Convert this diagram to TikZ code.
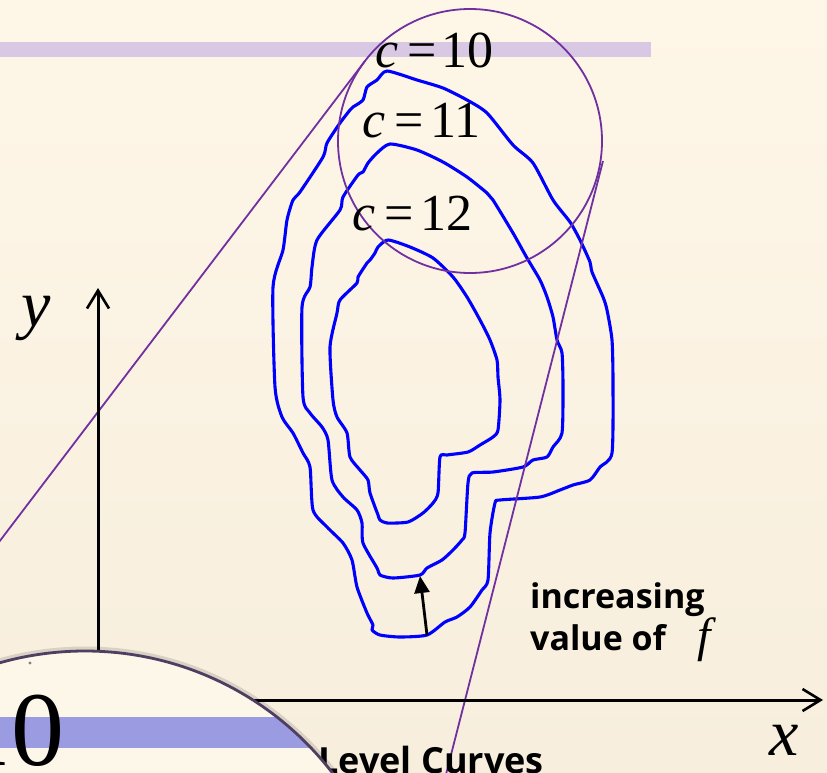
\documentclass[tikz,border=0pt]{standalone}
\usepackage{fontspec}
\setmainfont{Liberation Serif}
\newfontfamily\sansfont{Open Sans}
\usetikzlibrary{arrows.meta}
\definecolor{bgtop}{RGB}{254,246,231}
\definecolor{bgbot}{RGB}{247,238,221}
\definecolor{bandc}{RGB}{216,200,228}
\definecolor{mpurple}{RGB}{112,48,160}
\definecolor{cblue}{RGB}{0,0,255}
\definecolor{bigfill}{RGB}{253,247,233}
\definecolor{bigband}{RGB}{155,155,226}
\definecolor{bigedge}{RGB}{78,62,98}
\tikzset{
  contour/.style={draw=cblue, line width=3.1pt, line join=round, line cap=round},
  magline/.style={draw=mpurple, line width=1.8pt},
  axisline/.style={draw=black, line width=3pt, -{Straight Barb[length=18pt,width=22pt,line width=2.6pt]}},
  incarrow/.style={draw=black, line width=2.8pt, -{Triangle[length=17pt,width=15pt]}},
  eqlabel/.style={font=\fontsize{52}{52}\selectfont, inner sep=0pt, anchor=base west},
  varlabel/.style={font=\fontsize{66}{66}\selectfont\itshape, inner sep=0pt},
  sanslabel/.style={font=\sansfont\bfseries\fontsize{34}{42}\selectfont, inner sep=0pt, anchor=base west}
}
\begin{document}
\begin{tikzpicture}[x=1pt,y=-1pt]
\path[use as bounding box] (0,0) rectangle (827,772);
\clip (0,0) rectangle (827,772);
\shade[top color=bgtop, bottom color=bgbot] (0,0) rectangle (827,772);
% top band
\fill[bandc] (0,42) rectangle (651,57);
% contours
\draw[contour] plot[smooth cycle, tension=0.4] coordinates {
(387,71) (417,80) (443,88) (467,100) (487,113) (513,145) (533,163) (553,200) (570,222) (580,240) (590,262) (592,272) (603,297) (607,310) (612,340) (613,383) (612,453) (600,467) (590,480) (573,485) (560,490) (540,497) (500,500) (495,503) (490,533) (488,580) (482,590) (470,607) (457,617) (445,622) (427,635) (400,637) (380,635) (372,630) (373,625) (367,613) (357,587) (352,560) (343,543) (327,527) (313,510) (310,467) (303,453) (293,433) (282,417) (275,387) (273,287) (283,250) (287,220) (293,200) (300,192) (323,157) (327,143) (340,123) (350,110) (353,107) (363,100) (367,87) (377,80)};
\draw[contour] plot[smooth cycle, tension=0.4] coordinates {
(390,144) (417,150) (443,162) (467,177) (487,193) (493,200) (513,233) (527,258) (540,280) (547,297) (553,317) (557,340) (562,353) (563,387) (562,433) (553,447) (547,457) (533,460) (523,467) (493,472) (472,473) (468,483) (465,533) (462,540) (453,550) (442,560) (427,568) (420,575) (393,578) (380,575) (377,568) (363,543) (362,523) (357,510) (343,497) (332,480) (328,440) (322,427) (310,413) (303,397) (302,307) (310,287) (312,267) (317,240) (340,210) (343,197) (358,175) (363,172) (368,163) (377,153)};
\draw[contour] plot[smooth cycle, tension=0.4] coordinates {
(388,240) (410,247) (433,258) (453,277) (467,297) (480,320) (490,340) (497,360) (498,377) (500,400) (498,430) (493,437) (480,445) (468,452) (447,455) (440,457) (438,493) (433,503) (423,513) (408,522) (387,523) (380,520) (378,515) (370,493) (368,480) (360,470) (350,457) (347,433) (337,417) (333,400) (330,347) (337,313) (340,300) (357,283) (358,277) (367,263) (370,260) (375,253) (378,247)};
% increasing arrow
\coordinate (tail) at (427,635);
\coordinate (head) at (420,576);
\draw[incarrow] (tail) -- (head);
% magnifier
\coordinate (lensc) at (470,141);
\draw[magline] (lensc) circle[radius=132];
\coordinate (t1) at (365,61);
\coordinate (e1) at (-20,567);
\coordinate (t2) at (603,161);
\coordinate (e2) at (442,790);
\draw[magline] (t1) -- (e1);
\draw[magline] (t2) -- (e2);
% axes
\coordinate (yfoot) at (98,700);
\coordinate (ytip) at (98,288);
\coordinate (xfoot) at (98,700);
\coordinate (xtip) at (823,700);
\draw[axisline] (yfoot) -- (ytip);
\draw[axisline] (xfoot) -- (xtip);
\node[varlabel] (ylab) at (36,318) {y};
\node[varlabel] (xlab) at (784,740) {x};
% equations
\node[eqlabel] (c10) at (375,67) {\textit{c}\hspace{0.17em}=\hspace{0.1em}10};
\node[eqlabel] (c11) at (362,137) {\textit{c}\hspace{0.17em}=\hspace{0.13em}11};
\node[eqlabel] (c12) at (352,230) {\textit{c}\hspace{0.17em}=\hspace{0.13em}12};
% increasing label
\node[sanslabel] (inc) at (530,608) {increasing};
\node[sanslabel] (val) at (530,650) {value of};
\node[font=\fontsize{48}{48}\selectfont\itshape, inner sep=0pt, anchor=base west] (flab) at (697,651) {f};
\node[sanslabel, font=\sansfont\bfseries\fontsize{36}{42}\selectfont] (lc) at (318,773) {Level Curves};
% big magnified circle
\coordinate (bigc) at (85,963);
\draw[black, opacity=0.12, line width=7pt] (bigc) circle[radius=313];
\fill[bigfill] (bigc) circle[radius=312];
\begin{scope}
\clip (bigc) circle[radius=312];
\fill[bigband] (0,717) rectangle (420,748);
\node[font=\fontsize{106}{106}\selectfont, inner sep=0pt, anchor=base east] (big10) at (65,765) {10};
\fill[gray] (30,663) circle[radius=1.6];
\end{scope}
\draw[bigedge, line width=2.8pt] (bigc) circle[radius=312];
\end{tikzpicture}
\end{document}
